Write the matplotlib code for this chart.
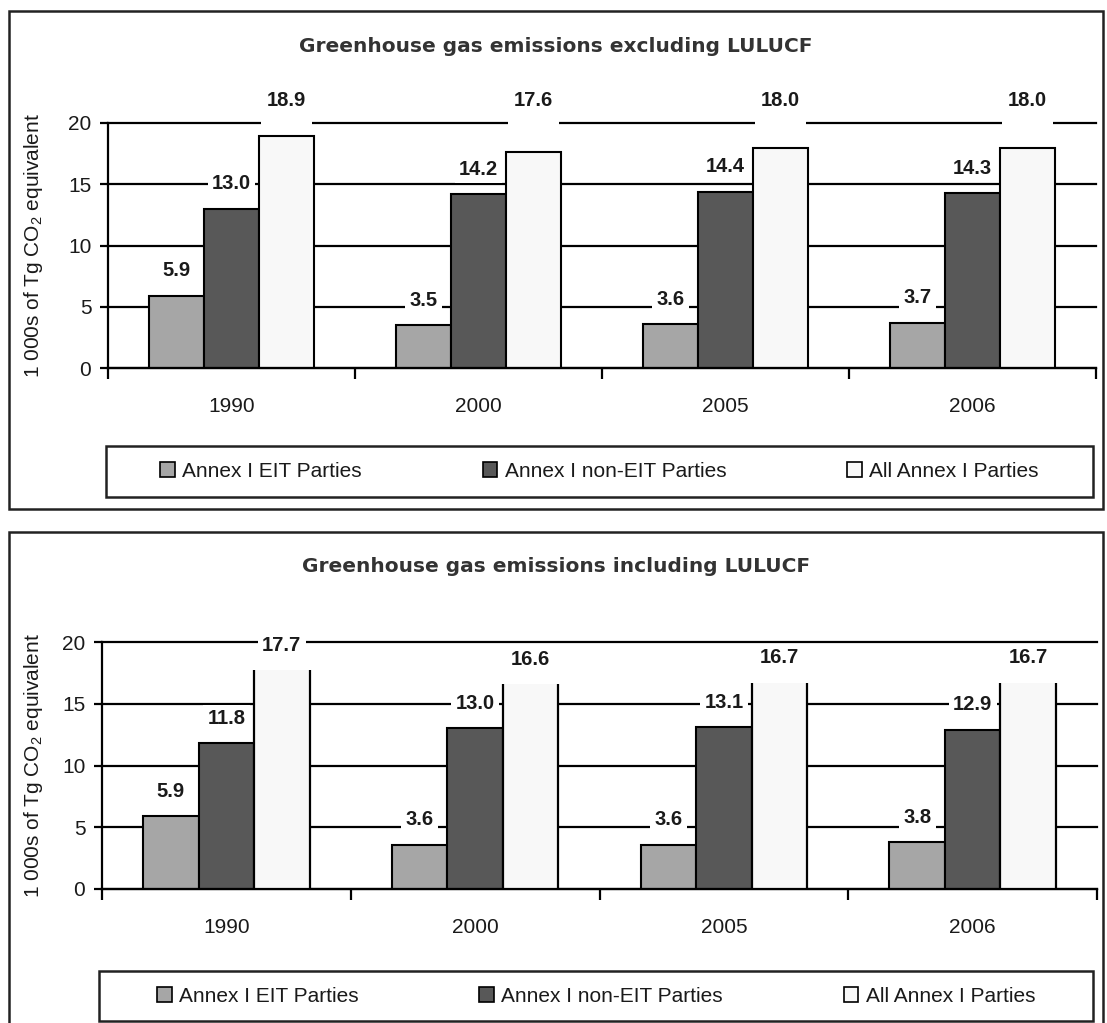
import matplotlib
matplotlib.use("Agg")
import matplotlib.pyplot as plt
from matplotlib.patches import Rectangle
import numpy as np

plt.rcParams['font.family'] = ['Liberation Sans', 'DejaVu Sans']
plt.rcParams['mathtext.default'] = 'regular'

# data
years = ['1990', '2000', '2005', '2006']
series_names = ['Annex I EIT Parties', 'Annex I non-EIT Parties', 'All Annex I Parties']
excl_eit = [5.9, 3.5, 3.6, 3.7]
excl_non_eit = [13.0, 14.2, 14.4, 14.3]
excl_all = [18.9, 17.6, 18.0, 18.0]
incl_eit = [5.9, 3.6, 3.6, 3.8]
incl_non_eit = [11.8, 13.0, 13.1, 12.9]
incl_all = [17.7, 16.6, 16.7, 16.7]
y_ticks = [0, 5, 10, 15, 20]

colors = ['#a6a6a6', '#585858', '#f8f8f8']
TXT = '#1a1a1a'
W, H = 1107, 1023

fig = plt.figure(figsize=(W / 100, H / 100), dpi=100)


def fx(px):
    return px / W


def fy(py):
    return 1 - py / H


def panel(box, ax_box, legend_box, title, title_y, data, open_top=False, top_label_y=None):
    # outer frame of the panel
    x0, y0, x1, y1 = box
    fig.patches.append(Rectangle((fx(x0), fy(y1)), fx(x1 - x0), (y1 - y0) / H,
                                 transform=fig.transFigure, fill=False,
                                 edgecolor='#222222', lw=1.8, clip_on=False))
    fig.text(fx((x0 + x1) / 2), fy(title_y), title, ha='center', va='center',
             fontsize=14.5, fontweight='bold', color='#333333',
             family='DejaVu Sans')

    l, t, r, b = ax_box
    ax = fig.add_axes([fx(l), fy(b), fx(r - l), (b - t) / H])
    x = np.arange(len(years))
    width = 0.223
    for i, vals in enumerate(data):
        pos = x + (i - 1) * width
        if open_top and i == 2:
            ax.bar(pos, vals, width, color=colors[i], edgecolor='none', zorder=2)
            ax.vlines(pos - width / 2, 0, vals, color='black', lw=1.6, zorder=3)
            ax.vlines(pos + width / 2, 0, vals, color='black', lw=1.6, zorder=3)
        else:
            ax.bar(pos, vals, width, color=colors[i], edgecolor='black',
                   lw=1.5, zorder=2)
        for p, v in zip(pos, vals):
            lab_kw = dict(ha='center', fontsize=14.5, fontweight='bold', color=TXT,
                          zorder=5, annotation_clip=False)
            if top_label_y is not None and i == 2:
                # label floats above the plot, its box cuts the top gridline
                ax.annotate('%.1f\n' % v, (p, top_label_y), va='top', linespacing=0.75,
                            bbox=dict(boxstyle='square,pad=0.3', fc='white', ec='none'),
                            **lab_kw)
            else:
                ax.annotate('%.1f' % v, (p, v), xytext=(0, 11), textcoords='offset points',
                            va='bottom',
                            bbox=dict(boxstyle='square,pad=0.22', fc='white', ec='none'),
                            **lab_kw)

    ax.set_xlim(-0.5, len(years) - 0.5)
    ax.set_ylim(0, 20)
    ax.set_yticks(y_ticks)
    ax.yaxis.grid(True, color='black', lw=1.6)
    for gl in ax.get_ygridlines():
        gl.set_clip_on(False)
    ax.set_axisbelow(True)
    for s in ['top', 'right']:
        ax.spines[s].set_visible(False)
    for s in ['left', 'bottom']:
        ax.spines[s].set_linewidth(1.6)
    ax.set_xticks(x)
    ax.set_xticklabels(years)
    ax.set_xticks(np.arange(len(years) + 1) - 0.5, minor=True)
    ax.tick_params(axis='x', which='major', length=0, pad=21, labelsize=15, labelcolor=TXT)
    ax.tick_params(axis='x', which='minor', length=8, width=1.6, direction='out')
    ax.tick_params(axis='y', length=6, width=1.6, pad=6, labelsize=15, labelcolor=TXT)
    ax.set_ylabel('1 000s of Tg CO$_2$ equivalent', fontsize=15, color=TXT)
    ax.yaxis.set_label_coords((45 - l) / (r - l), 0.5)

    # legend
    lx0, ly0, lx1, ly1 = legend_box
    fig.patches.append(Rectangle((fx(lx0), fy(ly1)), fx(lx1 - lx0), (ly1 - ly0) / H,
                                 transform=fig.transFigure, fill=False,
                                 edgecolor='#222222', lw=1.8))
    handles = [Rectangle((0, 0), 1, 1, fc=c, ec='black', lw=1.2) for c in colors]
    fig.legend(handles, series_names, loc='center',
               bbox_to_anchor=(fx((lx0 + lx1) / 2), fy((ly0 + ly1) / 2)),
               ncol=3, frameon=False, fontsize=15, handlelength=0.7,
               handleheight=0.7, handletextpad=0.35, columnspacing=5.8,
               labelcolor=TXT)
    return ax


panel((9, 11, 1103, 509), (108, 123, 1096, 368), (106, 446, 1093, 497),
      'Greenhouse gas emissions excluding LULUCF', 47,
      [excl_eit, excl_non_eit, excl_all], top_label_y=22.6)
panel((9, 532, 1103, 1040), (102, 642, 1097, 889), (99, 971, 1093, 1021),
      'Greenhouse gas emissions including LULUCF', 566,
      [incl_eit, incl_non_eit, incl_all], open_top=True)

fig.savefig('out.png', dpi=100)
